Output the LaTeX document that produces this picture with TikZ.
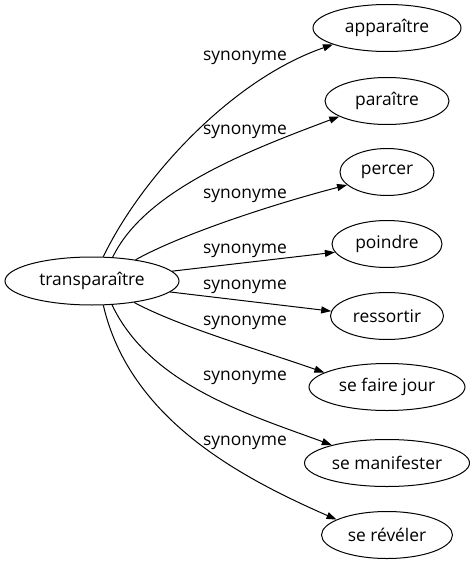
\documentclass[tikz,border=0pt]{standalone}
\usepackage{fontspec}
\setmainfont{Open Sans}
\usetikzlibrary{shapes.geometric,arrows.meta}
\begin{document}
\begin{tikzpicture}[x=1bp,y=-1bp,
  word/.style={ellipse,draw,line width=1bp,inner sep=0pt,minimum height=47bp,
    font=\fontsize{17.4bp}{20bp}\selectfont},
  rel/.style={font=\fontsize{17.4bp}{20bp}\selectfont,inner sep=0pt},
  link/.style={line width=1bp,-{Triangle[length=10bp,width=7bp]}}]
\useasboundingbox (0,0) rectangle (475,563);
\node[word,minimum width=174bp,minimum height=48bp] (src) at (92,281) {transparaître};
\node[word,minimum width=148bp] (t1) at (387,28) {apparaître};
\node[word,minimum width=124bp] (t2) at (387,101) {paraître};
\node[word,minimum width=94bp] (t3) at (387,172) {percer};
\node[word,minimum width=110bp] (t4) at (387,244) {poindre};
\node[word,minimum width=113bp] (t5) at (387,316) {ressortir};
\node[word,minimum width=156bp] (t6) at (387,387) {se faire jour};
\node[word,minimum width=165bp] (t7) at (387,463) {se manifester};
\node[word,minimum width=131bp] (t8) at (387,535) {se révéler};
\draw[link] (src.65) .. controls (140,180) and (230,80) .. (t1.197);
\draw[link] (src.49) .. controls (145,190) and (250,150) .. (t2.198);
\draw[link] (src.26) .. controls (180,235) and (270,205) .. (t3.198);
\draw[link] (src.7) -- (t4.189);
\draw[link] (src.-8) -- (t5.175);
\draw[link] (src.-27) .. controls (180,327) and (260,350) .. (t6.167);
\draw[link] (src.-50) .. controls (150,385) and (250,415) .. (t7.162);
\draw[link] (src.-65) .. controls (130,420) and (242,478) .. (t8.163);
\node[rel] (l1) at (245,58) {synonyme};
\node[rel] (l2) at (245,132) {synonyme};
\node[rel] (l3) at (245,196) {synonyme};
\node[rel] (l4) at (245,251) {synonyme};
\node[rel] (l5) at (245,287) {synonyme};
\node[rel] (l6) at (245,323) {synonyme};
\node[rel] (l7) at (245,378) {synonyme};
\node[rel] (l8) at (245,443) {synonyme};
\end{tikzpicture}
\end{document}
